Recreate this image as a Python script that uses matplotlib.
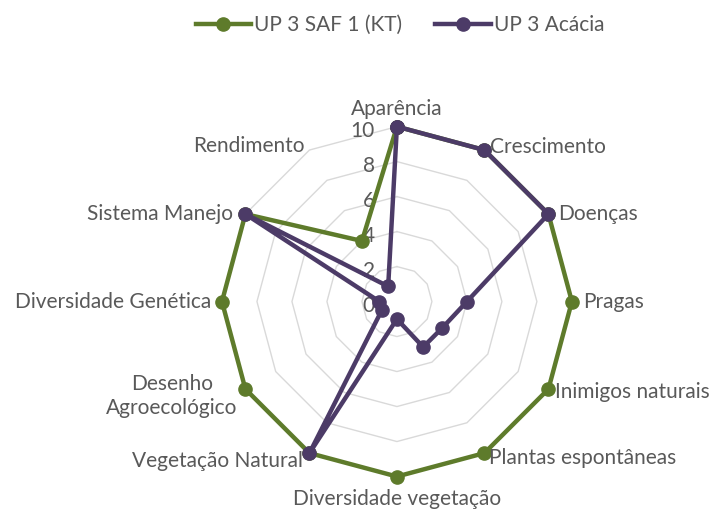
import numpy as np
import matplotlib.pyplot as plt

plt.rcParams['font.family'] = ['Lato', 'DejaVu Sans']

categorias = ['Aparência', 'Crescimento', 'Doenças', 'Pragas', 'Inimigos naturais',
              'Plantas espontâneas', 'Diversidade vegetação', 'Vegetação Natural',
              'Desenho\nAgroecológico', 'Diversidade Genética', 'Sistema Manejo', 'Rendimento']
saf1 = [10, 10, 10, 10, 10, 10, 10, 10, 10, 10, 10, 4]
acacia = [10, 10, 10, 4, 3, 3, 1, 10, 1, 1, 10, 1]
nomes = ['UP 3 SAF 1 (KT)', 'UP 3 Acácia']
cores = ['#5E7B2B', '#4C3B67']
aneis = [2, 4, 6, 8, 10]

n = len(categorias)
ang = np.arange(n) * 2 * np.pi / n
ang_f = np.append(ang, ang[0])

fs = 15

fig = plt.figure(figsize=(7.23, 5.12), dpi=100)
ax = fig.add_axes([0.307, 0.069, 0.484, 0.684], projection='polar')
ax.set_theta_zero_location('N')
ax.set_theta_direction(-1)
ax.set_ylim(0, 10)
ax.grid(False)
ax.spines['polar'].set_visible(False)
ax.set_xticks([])
ax.set_yticks([])
ax.patch.set_alpha(0)

# grade poligonal
for v in aneis:
    ax.plot(ang_f, [v] * (n + 1), color='#D9D9D9', lw=1, clip_on=False, zorder=1)

# rótulos do eixo radial
for v in [0] + aneis:
    ax.annotate(str(v), xy=(0, v), xytext=(-22, -4), textcoords='offset pixels',
                ha='right', va='center', fontsize=fs, color='#595959')

# séries
for vals, nome, c in zip([saf1, acacia], nomes, cores):
    ax.plot(ang_f, vals + vals[:1], color=c, lw=3.2, marker='o', ms=9.5,
            label=nome, clip_on=False, zorder=3)

# rótulos das categorias
offs = [(0, 18, 'center'), (6, 3, 'left'), (10, 0, 'left'), (11, 0, 'left'),
        (7, -3, 'left'), (5, -5, 'left'), (0, -22, 'center'), (-6, -8, 'right'),
        (-8, -7, 'right'), (-11, 0, 'right'), (-12, 0, 'right'), (-5, 4, 'right')]
for a, lab, (dx, dy, ha) in zip(ang, categorias, offs):
    ax.annotate(lab, xy=(a, 10), xytext=(dx, dy), textcoords='offset pixels',
                ha=ha, va='center', multialignment='center',
                fontsize=fs, color='#595959')

fig.legend(loc='center', bbox_to_anchor=(0.553, 0.951), ncol=2, frameon=False,
           fontsize=fs, labelcolor='#595959', handlelength=2.65, columnspacing=1.6,
           handletextpad=0.15)

fig.savefig('out.png', dpi=100)
